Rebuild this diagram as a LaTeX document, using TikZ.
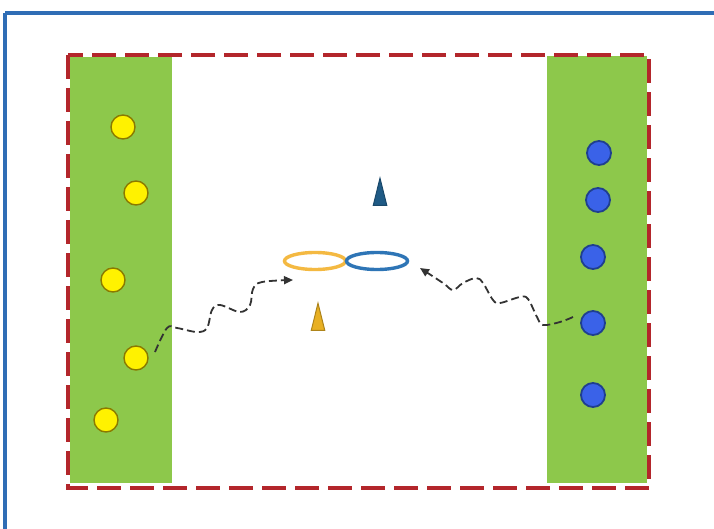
\documentclass[tikz,border=0pt]{standalone}
\usetikzlibrary{arrows.meta,shapes.geometric}
\definecolor{frameblue}{HTML}{2F6DB5}
\definecolor{fieldgreen}{HTML}{8DC84B}
\definecolor{zonered}{HTML}{B3262B}
\definecolor{ballyellow}{HTML}{FFF200}
\definecolor{balledge}{HTML}{8A7A00}
\definecolor{ballblue}{HTML}{3A62E8}
\definecolor{blueedge}{HTML}{1F3F8F}
\definecolor{ringorange}{HTML}{F4B942}
\definecolor{ringblue}{HTML}{2E75B6}
\definecolor{coneblue}{HTML}{1F5A85}
\definecolor{coneorange}{HTML}{E8B023}
\tikzset{
  yplayer/.style={circle,draw=balledge,fill=ballyellow,line width=1.4pt,minimum size=24pt,inner sep=0pt},
  bplayer/.style={circle,draw=blueedge,fill=ballblue,line width=1.8pt,minimum size=24pt,inner sep=0pt},
  ring/.style={ellipse,line width=3.4pt,minimum width=61pt,minimum height=17pt,inner sep=0pt},
  runpath/.style={draw=black!80,line width=1.8pt,dash pattern=on 8pt off 4pt,-{Triangle[length=9pt,width=8pt]}},
  zone/.style={draw=zonered,line width=3.5pt,dash pattern=on 24pt off 9pt},
  cone/.style={isosceles triangle,isosceles triangle apex angle=28,shape border rotate=90,minimum height=27pt,minimum width=11pt,inner sep=0pt,line width=1pt},
}
\begin{document}
\begin{tikzpicture}[x=1pt,y=-1pt]
\useasboundingbox (0,0) rectangle (714,529);
\fill[white] (0,0) rectangle (714,529);
\begin{scope}
\clip (0,0) rectangle (714,529);
\draw[frameblue,line width=3.5pt] (5,13) -- (725,13) (5,13) -- (5,540);
\end{scope}
% green strips
\fill[fieldgreen] (70,57) rectangle (172,483);
\fill[fieldgreen] (547,56) rectangle (647,483);
% dashed zone
\draw[zone] (68,55) rectangle (649,488);
% yellow players
\node[yplayer] (y1) at (123,127) {};
\node[yplayer] (y2) at (136,193) {};
\node[yplayer] (y3) at (113,280) {};
\node[yplayer] (y4) at (136,358) {};
\node[yplayer] (y5) at (106,420) {};
% blue players
\node[bplayer] (b1) at (599,153) {};
\node[bplayer] (b2) at (598,200) {};
\node[bplayer] (b3) at (593,257) {};
\node[bplayer] (b4) at (593,323) {};
\node[bplayer] (b5) at (593,395) {};
% rings
\node[ring,draw=ringorange] (ro) at (315,261) {};
\node[ring,draw=ringblue] (rb) at (377,261) {};
% cones
\node[cone,fill=coneblue,draw=coneblue!80!black] (cb) at (380,200) {};
\node[cone,fill=coneorange,draw=coneorange!75!black] (co) at (318,325) {};
% runs
\coordinate (ls) at (155,352);
\coordinate (le) at (293,280);
\coordinate (rs) at (573,317);
\coordinate (re) at (420,268);
\draw[runpath] plot[smooth,tension=0.6] coordinates {(ls) (167,328) (177,328) (197,332) (207,328) (212,310) (220,305) (240,312) (250,305) (253,289) (262,282) (le)};
\draw[runpath] plot[smooth,tension=0.6] coordinates {(rs) (560,322) (543,325) (537,317) (528,299) (520,297) (500,303) (493,300) (483,283) (476,278) (463,283) (453,290) (443,283) (re)};
\end{tikzpicture}
\end{document}
